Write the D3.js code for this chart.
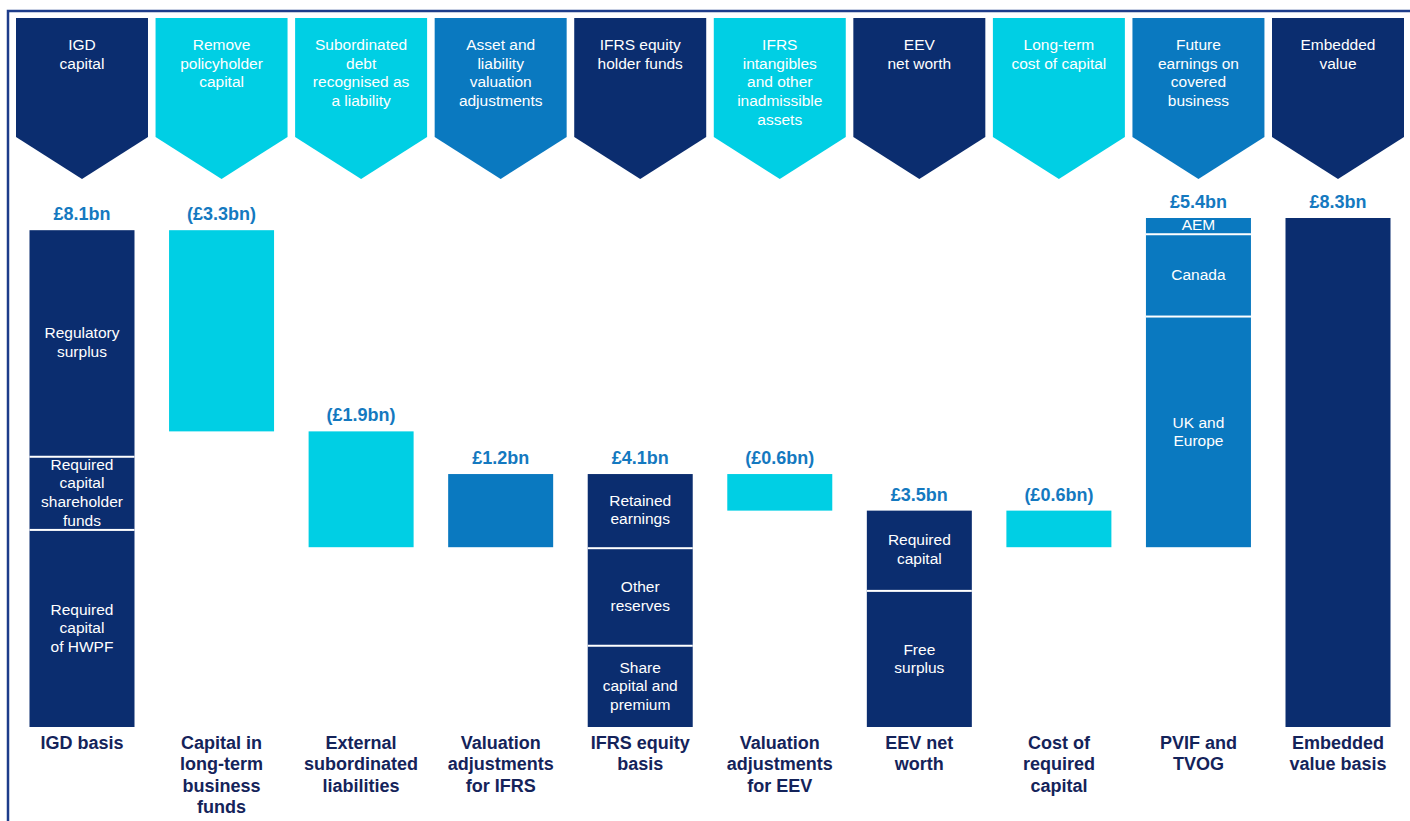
<!DOCTYPE html>
<html>
<head>
<meta charset="utf-8">
<script src="https://cdn.jsdelivr.net/npm/d3@7"></script>
<style>
  body { margin: 0; background: #fff; }
  svg text { font-family: "Liberation Sans", Arial, Helvetica, sans-serif; }
</style>
</head>
<body>
<svg id="bridge"></svg>
<script>
let w = 1410;
let h = 821;

// data
let steps = ["igd", "ltfunds", "subdebt", "valifrs", "ifrs", "valeev", "eev", "coc", "pvif", "ev"];
let values = [8.1, -3.3, -1.9, 1.2, 4.1, -0.6, 3.5, -0.6, 5.4, 8.3];
let isTotal = [true, false, false, false, true, false, true, false, false, true];
let valueLabels = ["£8.1bn", "(£3.3bn)", "(£1.9bn)", "£1.2bn", "£4.1bn", "(£0.6bn)", "£3.5bn", "(£0.6bn)", "£5.4bn", "£8.3bn"];
let colourKey = ["navy", "cyan", "cyan", "mid", "navy", "cyan", "navy", "cyan", "mid", "navy"];

let headerLabels = [
  ["IGD", "capital"],
  ["Remove", "policyholder", "capital"],
  ["Subordinated", "debt", "recognised as", "a liability"],
  ["Asset and", "liability", "valuation", "adjustments"],
  ["IFRS equity", "holder funds"],
  ["IFRS", "intangibles", "and other", "inadmissible", "assets"],
  ["EEV", "net worth"],
  ["Long-term", "cost of capital"],
  ["Future", "earnings on", "covered", "business"],
  ["Embedded", "value"]
];

let footLabels = [
  ["IGD basis"],
  ["Capital in", "long-term", "business", "funds"],
  ["External", "subordinated", "liabilities"],
  ["Valuation", "adjustments", "for IFRS"],
  ["IFRS equity", "basis"],
  ["Valuation", "adjustments", "for EEV"],
  ["EEV net", "worth"],
  ["Cost of", "required", "capital"],
  ["PVIF and", "TVOG"],
  ["Embedded", "value basis"]
];

// stacked pieces inside some bars, listed top to bottom
let igdParts = [3.7, 1.2, 3.2];
let igdPartLabels = [["Regulatory", "surplus"], ["Required", "capital", "shareholder", "funds"], ["Required", "capital", "of HWPF"]];
let ifrsParts = [1.2, 1.6, 1.3];
let ifrsPartLabels = [["Retained", "earnings"], ["Other", "reserves"], ["Share", "capital and", "premium"]];
let eevParts = [1.3, 2.2];
let eevPartLabels = [["Required", "capital"], ["Free", "surplus"]];
let pvifParts = [0.25, 1.35, 3.8];
let pvifPartLabels = [["AEM"], ["Canada"], ["UK and", "Europe"]];

let colours = { navy: "#0b2d6f", cyan: "#00cfe4", mid: "#0a79c0" };

let svg = d3.select("#bridge").attr("width", w).attr("height", h);

// frame
svg.append("rect")
  .attr("x", 8).attr("y", 11)
  .attr("width", w + 20).attr("height", h + 20)
  .attr("fill", "none")
  .attr("stroke", "#1d3c8a")
  .attr("stroke-width", 2.5);

let xScale = d3.scaleBand().domain(steps).range([16, 1404]).paddingInner(0.0542);
let yScale = d3.scaleLinear().domain([0, 8.3]).range([724, 218]);
let baseY = 727; // totals sit on this line
let barW = 105;

// waterfall extents
let running = 0;
let bars = steps.map(function (s, i) {
  let lo, hi;
  if (isTotal[i]) {
    lo = 0; hi = values[i]; running = values[i];
  } else {
    let next = running + values[i];
    lo = Math.min(running, next); hi = Math.max(running, next);
    running = next;
  }
  return { key: s, i: i, lo: lo, hi: hi };
});

function barX(key) {
  return xScale(key) + xScale.bandwidth() / 2 - barW / 2;
}
function yBottom(v) {
  return v === 0 ? baseY : yScale(v);
}

// header chevrons
let chevTop = 18, chevShoulder = 137, chevTip = 179;
let head = svg.append("g").attr("class", "heads");
head.selectAll("path")
  .data(steps)
  .enter()
  .append("path")
  .attr("d", function (d) {
    let x0 = xScale(d), x1 = x0 + xScale.bandwidth(), xc = (x0 + x1) / 2;
    return `M${x0},${chevTop}H${x1}V${chevShoulder}L${xc},${chevTip}L${x0},${chevShoulder}Z`;
  })
  .attr("fill", function (d, i) { return colours[colourKey[i]]; });

head.selectAll("text")
  .data(steps)
  .enter()
  .append("text")
  .attr("text-anchor", "middle")
  .attr("fill", "#fff")
  .style("font-size", "15.5px")
  .each(function (d, i) {
    let t = d3.select(this);
    headerLabels[i].forEach(function (line, j) {
      t.append("tspan")
        .attr("x", xScale(d) + xScale.bandwidth() / 2)
        .attr("y", 50 + j * 18.7)
        .text(line);
    });
  });

// bars
svg.append("g").selectAll("rect")
  .data(bars)
  .enter()
  .append("rect")
  .attr("x", function (d) { return barX(d.key); })
  .attr("y", function (d) { return yScale(d.hi); })
  .attr("width", barW)
  .attr("height", function (d) { return yBottom(d.lo) - yScale(d.hi); })
  .attr("fill", function (d) { return colours[colourKey[d.i]]; });

// stacked pieces with white splits and labels
function drawParts(key, parts, labels) {
  let b = bars[steps.indexOf(key)];
  let g = svg.append("g");
  let acc = b.hi;
  parts.forEach(function (v, j) {
    let y0 = yScale(acc);
    acc = Math.max(0, +(acc - v).toFixed(3));
    let y1 = yBottom(acc);
    if (j > 0) {
      g.append("rect")
        .attr("x", barX(key)).attr("y", y0)
        .attr("width", barW).attr("height", 2)
        .attr("fill", "#fff");
    }
    let lines = labels[j];
    let mid = (y0 + y1) / 2 + (j > 0 ? 1 : 0);
    let lh = 18.7;
    let t = g.append("text")
      .attr("text-anchor", "middle")
      .attr("fill", "#fff")
      .style("font-size", "15.5px");
    lines.forEach(function (line, k) {
      t.append("tspan")
        .attr("x", barX(key) + barW / 2)
        .attr("y", mid - (lines.length - 1) * lh / 2 + k * lh + 4.5)
        .text(line);
    });
  });
}
drawParts("igd", igdParts, igdPartLabels);
drawParts("ifrs", ifrsParts, ifrsPartLabels);
drawParts("eev", eevParts, eevPartLabels);
drawParts("pvif", pvifParts, pvifPartLabels);

// value labels
svg.append("g").selectAll("text")
  .data(bars)
  .enter()
  .append("text")
  .attr("x", function (d) { return barX(d.key) + barW / 2; })
  .attr("y", function (d) { return yScale(d.hi) - 10; })
  .attr("text-anchor", "middle")
  .attr("fill", "#1479c0")
  .style("font-size", "18px")
  .style("font-weight", "bold")
  .text(function (d) { return valueLabels[d.i]; });

// category labels under the bars
svg.append("g").selectAll("text")
  .data(bars)
  .enter()
  .append("text")
  .attr("text-anchor", "middle")
  .attr("fill", "#14235a")
  .style("font-size", "18px")
  .style("font-weight", "bold")
  .each(function (d) {
    let t = d3.select(this);
    footLabels[d.i].forEach(function (line, j) {
      t.append("tspan")
        .attr("x", barX(d.key) + barW / 2)
        .attr("y", 749 + j * 21.3)
        .text(line);
    });
  });
</script>
</body>
</html>
